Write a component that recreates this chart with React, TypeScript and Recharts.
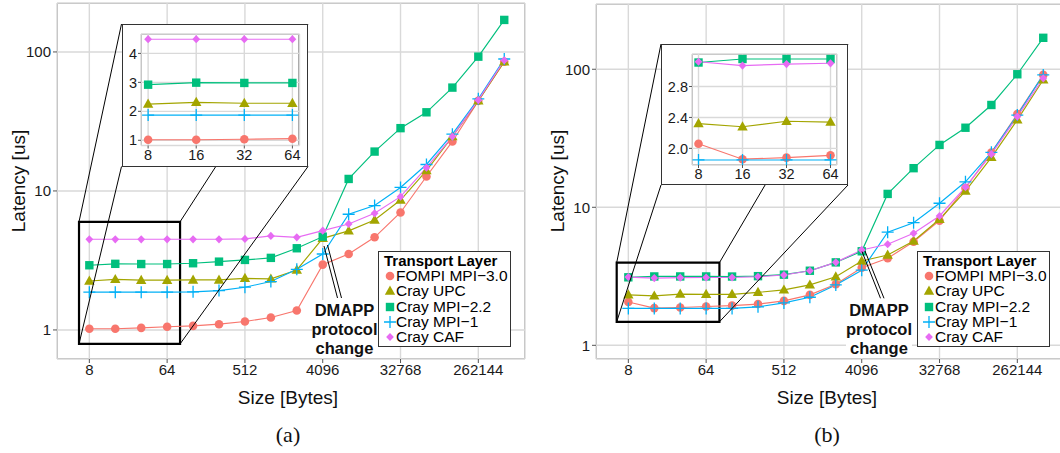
import React from 'react';
import { LineChart, Line, XAxis, YAxis, CartesianGrid, ReferenceArea } from 'recharts';

const sizes = [8, 16, 32, 64, 128, 256, 512, 1024, 2048, 4096, 8192, 16384, 32768, 65536, 131072, 262144, 524288];

const seriesKeys = ['fompi', 'upc', 'mpi22', 'mpi1', 'caf'];
const seriesNames = ['FOMPI MPI\u22123.0', 'Cray UPC', 'Cray MPI\u22122.2', 'Cray MPI\u22121', 'Cray CAF'];
const seriesColors = ['#F8766D', '#A3A500', '#00BF7D', '#00B0F6', '#E76BF3'];
const seriesShapes = ['circle', 'triangle', 'square', 'plus', 'diamond'];

// panel (a)
const fompiA = [1.02, 1.02, 1.035, 1.055, 1.07, 1.1, 1.15, 1.23, 1.38, 2.95, 3.52, 4.64, 7.0, 12.7, 22.7, 44.5, 85];
const upcA = [2.25, 2.31, 2.28, 2.28, 2.29, 2.29, 2.35, 2.33, 2.7, 4.56, 5.16, 6.18, 8.6, 14.0, 24.6, 44.5, 85];
const mpi22A = [2.92, 2.99, 2.98, 2.98, 3.02, 3.1, 3.19, 3.3, 3.87, 4.69, 12.2, 19.2, 28.3, 36.8, 55.4, 92.5, 170];
const mpi1A = [1.87, 1.87, 1.87, 1.87, 1.88, 1.92, 2.03, 2.23, 2.73, 3.52, 6.8, 7.85, 10.6, 15.5, 25.6, 46, 89];
const cafA = [4.49, 4.49, 4.49, 4.49, 4.49, 4.49, 4.52, 4.75, 4.64, 5.18, 5.79, 6.9, 9.1, 14.7, 24.6, 45, 87];

// panel (b)
const fompiB = [2.06, 1.86, 1.88, 1.91, 1.94, 1.99, 2.1, 2.32, 2.77, 3.65, 4.27, 5.63, 8.0, 13.8, 24.9, 47.3, 91];
const upcB = [2.32, 2.28, 2.35, 2.34, 2.34, 2.42, 2.52, 2.74, 3.14, 4.08, 4.51, 5.7, 8.19, 13.1, 23.0, 43, 84];
const mpi22B = [3.11, 3.155, 3.155, 3.155, 3.15, 3.17, 3.25, 3.47, 3.99, 4.8, 12.5, 19.2, 28.3, 37.7, 55.1, 92, 169];
const mpi1B = [1.85, 1.85, 1.85, 1.85, 1.85, 1.9, 2.03, 2.23, 2.74, 3.5, 6.6, 7.73, 10.7, 15.3, 25, 46.6, 91];
const cafB = [3.12, 3.07, 3.09, 3.1, 3.1, 3.14, 3.23, 3.47, 3.99, 4.91, 5.4, 6.48, 8.65, 14.0, 24.3, 45.4, 86];

const xTicks = [8, 64, 512, 4096, 32768, 262144];
const yTicks = [1, 10, 100];
const insetXTicks = [8, 16, 32, 64];
const insetYTicksA = [1, 2, 3, 4];
const insetYTicksB = [2.0, 2.4, 2.8];
const annotLines = ['DMAPP', 'protocol', 'change'];

const xDomain: [number, number] = [3.37, 912900];
const insetXDomain: [number, number] = [7.22, 70.9];

const buildRows = (cols: number[][]) =>
  sizes.map((s, i) => {
    const r: any = { size: s };
    seriesKeys.forEach((k, j) => (r[k] = cols[j][i]));
    return r;
  });

const rowsA = buildRows([fompiA, upcA, mpi22A, mpi1A, cafA]);
const rowsB = buildRows([fompiB, upcB, mpi22B, mpi1B, cafB]);

const FONT = '"Liberation Sans", Arial, Helvetica, sans-serif';

const Marker = ({ shape, cx, cy, color }: any) => {
  if (cx == null || cy == null) return null;
  switch (shape) {
    case 'circle':
      return <circle cx={cx} cy={cy} r={4.3} fill={color} />;
    case 'triangle':
      return <polygon points={`${cx},${cy - 5.5} ${cx + 5.2},${cy + 3.7} ${cx - 5.2},${cy + 3.7}`} fill={color} />;
    case 'square':
      return <rect x={cx - 4.2} y={cy - 4.2} width={8.4} height={8.4} fill={color} />;
    case 'plus':
      return <path d={`M${cx - 6},${cy}H${cx + 6}M${cx},${cy - 6}V${cy + 6}`} stroke={color} strokeWidth={1.3} fill="none" />;
    default:
      return <polygon points={`${cx},${cy - 4.1} ${cx + 3.9},${cy} ${cx},${cy + 4.1} ${cx - 3.9},${cy}`} fill={color} />;
  }
};

const seriesLayers = (tag: string) => [
  ...seriesKeys.map((k, j) => (
    <Line key={`${tag}-l-${k}`} dataKey={k} stroke={seriesColors[j]} strokeWidth={1.15} dot={false}
      activeDot={false} isAnimationActive={false} type="linear" />
  )),
  ...seriesKeys.map((k, j) => (
    <Line key={`${tag}-d-${k}`} dataKey={k} stroke="none" activeDot={false} isAnimationActive={false}
      dot={(p: any) => <Marker key={`${tag}-${k}-${p.index}`} shape={seriesShapes[j]} cx={p.cx} cy={p.cy} color={seriesColors[j]} />} />
  )),
];

const logPos = (v: number, d: number[], p0: number, p1: number) =>
  p0 + ((Math.log(v) - Math.log(d[0])) / (Math.log(d[1]) - Math.log(d[0]))) * (p1 - p0);

const Text = ({ x, y, children, size = 15, weight = 400, rotate = 0, family = FONT }: any) => (
  <div style={{
    position: 'absolute', left: x, top: y, transform: `translate(-50%, -50%) rotate(${rotate}deg)`,
    fontSize: size, fontWeight: weight, fontFamily: family, whiteSpace: 'nowrap', color: '#111', lineHeight: 1,
  }}>{children}</div>
);

const panels = [
  {
    tag: 'a', rows: rowsA, chartLeft: 0, top: 3, yDomain: [0.618, 225] as [number, number],
    box: { x: [6.07, 90.4], y: [0.793, 6.0] },
    frame: { left: 121.5, top: 24, w: 186.5, h: 142.5, ml: 19, mr: 9, mt: 10, mb: 21 },
    insetYTicks: insetYTicksA, insetYDomain: [0.82, 4.67] as [number, number], insetFmt: (v: number) => String(v),
    arrows: [[324, 246, 337.5, 298], [327.5, 245, 341.5, 298]], textX: 344.5, caption: '(a)',
  },
  {
    tag: 'b', rows: rowsB, chartLeft: 539, top: 4, yDomain: [0.796, 297] as [number, number],
    box: { x: [5.86, 91.3], y: [1.48, 3.97] },
    frame: { left: 661, top: 44, w: 187, h: 141, ml: 31, mr: 11, mt: 10, mb: 20 },
    insetYTicks: insetYTicksB, insetYDomain: [1.785, 3.22] as [number, number], insetFmt: (v: number) => v.toFixed(1),
    arrows: [[862, 251.5, 880.5, 298.3], [865, 251, 884, 298.3]], textX: 879, caption: '(b)',
  },
];

const CHART_W = 530;
const CHART_H = 400;
const PLOT_BOTTOM = 359;

function MainPanel({ p }: any) {
  const plotLeft = p.chartLeft + 57;
  const plotRight = p.chartLeft + 525;
  const bx0 = logPos(p.box.x[0], xDomain, plotLeft, plotRight);
  const bx1 = logPos(p.box.x[1], xDomain, plotLeft, plotRight);
  const by0 = logPos(p.box.y[0], p.yDomain, PLOT_BOTTOM, p.top);
  const by1 = logPos(p.box.y[1], p.yDomain, PLOT_BOTTOM, p.top);
  const f = p.frame;
  const legendLeft = plotLeft + 321;
  return (
    <>
      <div style={{ position: 'absolute', left: plotLeft, top: p.top, width: plotRight - plotLeft, height: PLOT_BOTTOM - p.top, border: '1px solid #a0a0a0', boxSizing: 'border-box' }} />
      <div style={{ position: 'absolute', left: p.chartLeft, top: 0 }}>
        <LineChart width={CHART_W} height={CHART_H} data={p.rows} margin={{ top: p.top, right: 5, bottom: 0, left: 0 }}>
          <CartesianGrid stroke="#d9d9d9" strokeWidth={1.4} />
          <XAxis dataKey="size" type="number" scale="log" domain={xDomain} ticks={xTicks} allowDataOverflow interval={0}
            height={41} tickSize={4} tickMargin={1} axisLine={false} tickLine={{ stroke: '#555' }}
            tick={{ fontSize: 15, fill: '#1a1a1a' }} />
          <YAxis type="number" scale="log" domain={p.yDomain} ticks={yTicks} allowDataOverflow interval={0}
            width={57} tickSize={4} tickMargin={2} axisLine={false} tickLine={{ stroke: '#555' }}
            tick={{ fontSize: 15, fill: '#1a1a1a' }} />
          {seriesLayers(p.tag)}
          <ReferenceArea x1={p.box.x[0]} x2={p.box.x[1]} y1={p.box.y[0]} y2={p.box.y[1]} fill="none" fillOpacity={0}
            stroke="#000" strokeWidth={2.2} ifOverflow="visible" />
        </LineChart>
      </div>
      <svg style={{ position: 'absolute', left: 0, top: 0, pointerEvents: 'none' }} width={1064} height={453}>
        <line x1={bx0} y1={by1} x2={f.left} y2={f.top} stroke="#000" strokeWidth={1} />
        <line x1={bx1} y1={by1} x2={f.left + f.w} y2={f.top} stroke="#000" strokeWidth={1} />
        <line x1={bx0} y1={by0} x2={f.left} y2={f.top + f.h} stroke="#000" strokeWidth={1} />
        <line x1={bx1} y1={by0} x2={f.left + f.w} y2={f.top + f.h} stroke="#000" strokeWidth={1} />
        {p.arrows.map((a: number[], i: number) => (
          <line key={i} x1={a[0]} y1={a[1]} x2={a[2]} y2={a[3]} stroke="#000" strokeWidth={1} />
        ))}
      </svg>
      {/* inset */}
      <div style={{ position: 'absolute', left: f.left, top: f.top, width: f.w, height: f.h, background: '#fff', border: '1.5px solid #333', boxSizing: 'border-box' }} />
      <div style={{ position: 'absolute', left: f.left + f.ml, top: f.top + f.mt, width: f.w - f.ml - f.mr, height: f.h - f.mt - f.mb, border: '1px solid #a0a0a0', boxSizing: 'border-box' }} />
      <div style={{ position: 'absolute', left: f.left, top: f.top }}>
        <LineChart width={f.w} height={f.h} data={p.rows.slice(0, 4)} margin={{ top: f.mt, right: f.mr, bottom: 0, left: 0 }}>
          <CartesianGrid stroke="#d9d9d9" strokeWidth={1.4} />
          <XAxis dataKey="size" type="number" scale="log" domain={insetXDomain} ticks={insetXTicks} allowDataOverflow interval={0}
            height={f.mb} tickSize={3} tickMargin={1} axisLine={false} tickLine={{ stroke: '#555' }}
            tick={{ fontSize: 14.5, fill: '#1a1a1a' }} />
          <YAxis type="number" domain={p.insetYDomain} ticks={p.insetYTicks} allowDataOverflow interval={0}
            width={f.ml} tickSize={3} tickMargin={1} axisLine={false} tickLine={{ stroke: '#555' }}
            tickFormatter={p.insetFmt} tick={{ fontSize: 14.5, fill: '#1a1a1a' }} />
          {seriesLayers(p.tag + 'i')}
        </LineChart>
      </div>
      {/* annotation */}
      <div style={{ position: 'absolute', left: p.textX - 33, top: 300, width: 66, height: 58, background: '#fff' }} />
      {annotLines.map((t, i) => (
        <Text key={t} x={p.textX} y={310 + i * 19} size={16.5} weight={700}>{t}</Text>
      ))}
      {/* legend */}
      <div style={{ position: 'absolute', left: legendLeft, top: 251, width: 133, height: 96, background: '#fff', border: '1.5px solid #333', boxSizing: 'border-box' }}>
        <div style={{ position: 'absolute', left: 5, top: 1, fontSize: 15, fontWeight: 700, lineHeight: '16px', whiteSpace: 'nowrap' }}>Transport Layer</div>
        {seriesNames.map((n, j) => (
          <div key={n} style={{ position: 'absolute', left: 0, top: 16 + j * 15.3, height: 15.3, width: 130 }}>
            <svg width={18} height={16} style={{ position: 'absolute', left: 2, top: 0 }}>
              <Marker shape={seriesShapes[j]} cx={9} cy={8} color={seriesColors[j]} />
            </svg>
            <div style={{ position: 'absolute', left: 17, top: 0, fontSize: 15.5, lineHeight: '16px', whiteSpace: 'nowrap' }}>{n}</div>
          </div>
        ))}
      </div>
      {/* titles */}
      <Text x={plotLeft + 231} y={397} size={19}>Size [Bytes]</Text>
      <Text x={plotLeft - 39.5} y={181} size={19} rotate={-90}>Latency [us]</Text>
      <Text x={plotLeft + 231} y={435} size={22} family='"Liberation Serif", "DejaVu Serif", serif'>{p.caption}</Text>
    </>
  );
}

export default function App() {
  return (
    <div style={{ position: 'absolute', left: 0, top: 0, width: 1060, height: 453, overflow: 'hidden', background: '#fff', fontFamily: FONT }}>
      {panels.map((p) => (
        <MainPanel key={p.tag} p={p} />
      ))}
    </div>
  );
}
